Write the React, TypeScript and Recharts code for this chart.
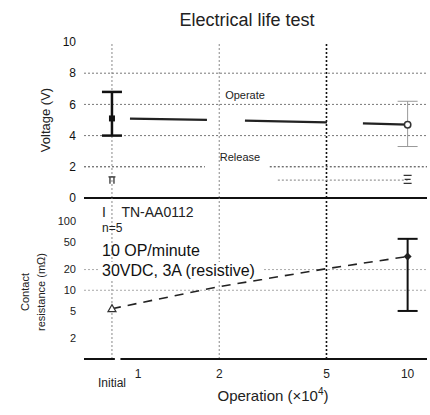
import React from 'react';
import { ComposedChart, Line, Scatter, XAxis, YAxis, ReferenceLine, ErrorBar } from 'recharts';

const FONT = '"Liberation Sans", Arial, Helvetica, sans-serif';

// x axis: operations (x10^4) on a log scale; "Initial" sits at 0.8
const xDomain = [0.63, 11.8];
const xTickValues = [0.8, 1, 2, 5, 10];
const xTickLabels = ['Initial', '1', '2', '5', '10'];
const gridX = [0.8, 2, 5];

const voltTicks = [0, 2, 4, 6, 8, 10];
const voltGridFull = [8, 6, 4];
const resTicks = [2, 5, 10, 20, 50, 100];
const resGrid = [20, 10];

// operate voltage
const operateX = [0.8, 2, 5, 10];
const operateV = [5.1, 5.0, 4.85, 4.7];
const operateInitialErr = [1.1, 1.7];
const operateFinalErr = [1.4, 1.5];

// release voltage
const releaseX = [0.8, 10];
const releaseV = [1.1, 1.2];
const releaseTrailX = [3.3, 10];
const releaseTrailV = [1.15, 1.15];

// contact resistance
const resX = [0.8, 2, 5, 10];
const resV = [5.4, 11.3, 20.6, 31];
const resFinalErr = [26, 25];

const operateLine = operateX.map((x, i) => ({ x, v: operateV[i] }));
const operateInitial = [{ x: operateX[0], v: operateV[0], err: operateInitialErr }];
const operateFinal = [{ x: operateX[3], v: operateV[3], err: operateFinalErr }];
const releaseInitial = [{ x: releaseX[0], v: releaseV[0] }];
const releaseFinal = [{ x: releaseX[1], v: releaseV[1] }];
const releaseTrail = releaseTrailX.map((x, i) => ({ x, v: releaseTrailV[i] }));
const resLine = resX.map((x, i) => ({ x, v: resV[i] }));
const resInitial = [{ x: resX[0], v: resV[0] }];
const resFinal = [{ x: resX[3], v: resV[3], err: resFinalErr }];

const grid = { stroke: '#777', strokeDasharray: '2 2', strokeWidth: 1 };

const squareFilled = (p: any) => <rect x={p.cx - 3} y={p.cy - 3} width={6} height={6} fill="#111" />;
const circleOpen = (p: any) => <circle cx={p.cx} cy={p.cy} r={3.2} fill="#fff" stroke="#333" strokeWidth={1.5} />;
const piMark = (p: any) => (
  <path
    d={`M${p.cx - 3.5},${p.cy - 4}H${p.cx + 3.5}M${p.cx - 2},${p.cy - 4}V${p.cy + 3}M${p.cx + 2},${p.cy - 4}V${p.cy + 3}`}
    fill="none"
    stroke="#333"
    strokeWidth={1.3}
  />
);
const xiMark = (p: any) => (
  <path
    d={`M${p.cx - 4},${p.cy - 4}H${p.cx + 4}M${p.cx - 3},${p.cy}H${p.cx + 3}M${p.cx - 4},${p.cy + 4}H${p.cx + 4}`}
    fill="none"
    stroke="#333"
    strokeWidth={1.3}
  />
);
const triangleOpen = (p: any) => (
  <path d={`M${p.cx},${p.cy - 4}L${p.cx + 4},${p.cy + 3}L${p.cx - 4},${p.cy + 3}Z`} fill="#fff" stroke="#333" strokeWidth={1.2} />
);
const diamond = (p: any) => (
  <path d={`M${p.cx},${p.cy - 4}L${p.cx + 4},${p.cy}L${p.cx},${p.cy + 4}L${p.cx - 4},${p.cy}Z`} fill="#222" />
);

const XTick = (props: any) => {
  const { x, y, payload } = props;
  const i = xTickValues.indexOf(payload.value);
  const label = xTickLabels[i];
  if (i === 0) {
    return (
      <text x={x} y={y + 20} textAnchor="middle" fontSize={12} fontFamily={FONT} fill="#222">
        {label}
      </text>
    );
  }
  return (
    <text x={x} y={y + 11} textAnchor="middle" fontSize={12} fontFamily={FONT} fill="#222">
      {label}
    </text>
  );
};

export default function App() {
  return (
    <div style={{ position: 'absolute', left: 0, top: 0, width: 430, height: 415, background: '#fff', fontFamily: FONT }}>
      <div style={{ position: 'absolute', left: 0, top: 0 }}>
        <ComposedChart width={430} height={208} margin={{ top: 42, right: 3, left: 54, bottom: 10 }}>
          <XAxis dataKey="x" type="number" scale="log" domain={xDomain} allowDataOverflow hide />
          <YAxis
            type="number"
            domain={[0, 10]}
            ticks={voltTicks}
            interval={0}
            width={30}
            axisLine={false}
            tickLine={false}
            tick={{ fontSize: 12, fill: '#111', fontFamily: FONT }}
          />
          {gridX.map((gx) => (
            <ReferenceLine key={gx} x={gx} {...grid} stroke={gx === 5 ? '#111' : '#888'} strokeWidth={gx === 5 ? 1.6 : 1} />
          ))}
          {voltGridFull.map((gy) => (
            <ReferenceLine key={gy} y={gy} {...grid} />
          ))}
          <ReferenceLine segment={[{ x: 0.63, y: 2 }, { x: 1.77, y: 2 }]} {...grid} stroke="#444" />
          <ReferenceLine segment={[{ x: 3.08, y: 2 }, { x: 11.8, y: 2 }]} {...grid} stroke="#333" />
          <ReferenceLine y={0} stroke="#111" strokeWidth={2} />
          <Line
            data={operateLine}
            dataKey="v"
            stroke="#222"
            strokeWidth={2.2}
            strokeDasharray="0 18 77 38 82 36 60"
            dot={false}
            isAnimationActive={false}
          />
          <Line
            data={releaseTrail}
            dataKey="v"
            stroke="#999"
            strokeWidth={1.2}
            strokeDasharray="2 2"
            dot={false}
            isAnimationActive={false}
          />
          <Scatter data={operateInitial} dataKey="v" shape={squareFilled} isAnimationActive={false}>
            <ErrorBar dataKey="err" direction="y" width={10} stroke="#111" strokeWidth={2.5} />
          </Scatter>
          <Scatter data={operateFinal} dataKey="v" shape={circleOpen} isAnimationActive={false}>
            <ErrorBar dataKey="err" direction="y" width={10} stroke="#999" strokeWidth={1} />
          </Scatter>
          <Scatter data={releaseInitial} dataKey="v" shape={piMark} isAnimationActive={false} />
          <Scatter data={releaseFinal} dataKey="v" shape={xiMark} isAnimationActive={false} />
        </ComposedChart>
      </div>
      <div style={{ position: 'absolute', left: 0, top: 198 }}>
        <ComposedChart width={430} height={217} margin={{ top: 0, right: 3, left: 54, bottom: 0 }}>
          <XAxis
            dataKey="x"
            type="number"
            scale="log"
            domain={xDomain}
            allowDataOverflow
            ticks={xTickValues}
            axisLine={false}
            tickLine={false}
            height={56}
            tick={<XTick />}
            interval={0}
          />
          <YAxis
            type="number"
            scale="log"
            domain={[1, 220]}
            allowDataOverflow
            ticks={resTicks}
            interval={0}
            width={30}
            axisLine={false}
            tickLine={false}
            tick={{ fontSize: 11, fill: '#222', fontFamily: FONT }}
          />
          {gridX.map((gx) => (
            <ReferenceLine key={gx} x={gx} {...grid} stroke={gx === 5 ? '#111' : '#888'} strokeWidth={gx === 5 ? 1.6 : 1} />
          ))}
          {resGrid.map((gy) => (
            <ReferenceLine key={gy} y={gy} {...grid} stroke="#aaa" />
          ))}
          <ReferenceLine segment={[{ x: 0.63, y: 1 }, { x: 0.82, y: 1 }]} stroke="#111" strokeWidth={2} />
          <ReferenceLine segment={[{ x: 0.86, y: 1 }, { x: 11.8, y: 1 }]} stroke="#111" strokeWidth={2} />
          <Line
            data={resLine}
            dataKey="v"
            stroke="#222"
            strokeWidth={1.6}
            strokeDasharray="9 7"
            dot={false}
            isAnimationActive={false}
          />
          <Scatter data={resInitial} dataKey="v" shape={triangleOpen} isAnimationActive={false} />
          <Scatter data={resFinal} dataKey="v" shape={diamond} isAnimationActive={false}>
            <ErrorBar dataKey="err" direction="y" width={10} stroke="#111" strokeWidth={2} />
          </Scatter>
        </ComposedChart>
      </div>
      <svg width={430} height={415} style={{ position: 'absolute', left: 0, top: 0, pointerEvents: 'none' }} fontFamily={FONT}>
        <text x={247} y={26} textAnchor="middle" fontSize={18} fill="#222">Electrical life test</text>
        <text transform="translate(50,120) rotate(-90)" textAnchor="middle" fontSize={13} fill="#222">Voltage (V)</text>
        <text transform="translate(29,292) rotate(-90)" textAnchor="middle" fontSize={11} fill="#222">Contact</text>
        <text transform="translate(45,292) rotate(-90)" textAnchor="middle" fontSize={11} fill="#222">resistance (mΩ)</text>
        <text x={245} y={99} textAnchor="middle" fontSize={11} fill="#222">Operate</text>
        <text x={240} y={161} textAnchor="middle" fontSize={11} fill="#222">Release</text>
        <text x={273} y={401} textAnchor="middle" fontSize={15} fill="#222">
          Operation (×10<tspan dy={-6} fontSize={10}>4</tspan><tspan dy={6}>)</tspan>
        </text>
        <rect x={100} y={262} width={164} height={17} fill="#fff" />
        <text x={102} y={217} fontSize={14} fill="#222">I&#160;&#160;&#160;&#160;TN-AA0112</text>
        <text x={102} y={232} fontSize={12} fill="#222">n=5</text>
        <text x={102} y={256} fontSize={16} fill="#111">10 OP/minute</text>
        <text x={102} y={276} fontSize={16} fill="#111">30VDC, 3A (resistive)</text>
      </svg>
    </div>
  );
}
